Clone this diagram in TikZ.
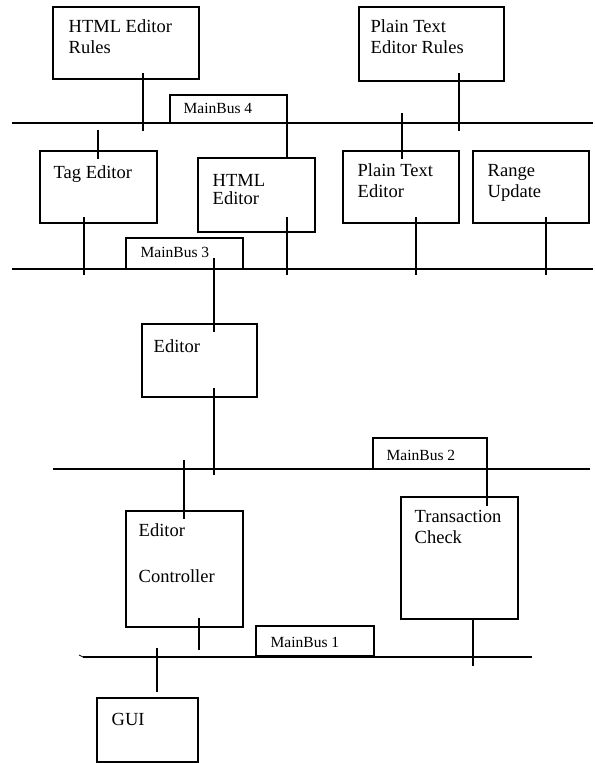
\documentclass[tikz,border=0pt]{standalone}
\usepackage{fontspec}
\setmainfont{Liberation Serif}
\begin{document}
\begin{tikzpicture}[x=1pt,y=-1pt,
  every path/.style={line width=1.4pt},
  box/.style={draw, rectangle, anchor=north west, inner sep=0pt, outer sep=0pt},
  lbl/.style={anchor=base west, inner sep=0pt, font=\fontsize{18.5}{20}\selectfont},
  buslbl/.style={anchor=base west, inner sep=0pt, font=\fontsize{15.5}{16}\selectfont}]
\useasboundingbox (0,0) rectangle (595,763);
% boxes
\node[box, minimum width=146pt, minimum height=72pt] (htmlrules) at (53,7) {};
\node[box, minimum width=145pt, minimum height=74pt] (ptrules) at (359,7) {};
\node[box, minimum width=117pt, minimum height=72pt] (tag) at (40,151) {};
\node[box, minimum width=117pt, minimum height=74pt] (htmled) at (198,158) {};
\node[box, minimum width=116pt, minimum height=72pt] (pted) at (343,151) {};
\node[box, minimum width=116pt, minimum height=72pt] (range) at (473,151) {};
\node[box, minimum width=115pt, minimum height=73pt] (editor) at (142,324) {};
\node[box, minimum width=117pt, minimum height=122pt] (trans) at (401,497) {};
\node[box, minimum width=117pt, minimum height=116pt] (ctrl) at (126,511) {};
\node[box, minimum width=101pt, minimum height=64pt] (gui) at (97,698) {};
% labels
\node[lbl] (t1) at (68,32) {HTML Editor};
\node[lbl] (t2) at (68,53) {Rules};
\node[lbl] (t3) at (370,32) {Plain Text};
\node[lbl] (t4) at (370,53) {Editor Rules};
\node[lbl] (t5) at (53,178) {Tag Editor};
\node[lbl] (t6) at (212,186) {HTML};
\node[lbl] (t7) at (212,204) {Editor};
\node[lbl] (t8) at (357,176) {Plain Text};
\node[lbl] (t9) at (357,197) {Editor};
\node[lbl] (t10) at (487,176) {Range};
\node[lbl] (t11) at (487,197) {Update};
\node[lbl] (t12) at (153,352) {Editor};
\node[lbl] (t13) at (414,522) {Transaction};
\node[lbl] (t14) at (414,543) {Check};
\node[lbl] (t15) at (138,536) {Editor};
\node[lbl] (t16) at (138,582) {Controller};
\node[lbl] (t17) at (111,725) {GUI};
% buses
\coordinate (b4l) at (12,123); \coordinate (b4r) at (593,123);
\coordinate (b3l) at (12,269); \coordinate (b3r) at (593,269);
\coordinate (b2l) at (53,469); \coordinate (b2r) at (590,469);
\coordinate (b1l) at (83,657); \coordinate (b1r) at (532,657);
\draw (b4l) -- (b4r);
\draw (b3l) -- (b3r);
\draw (b2l) -- (b2r);
\draw (b1l) -- (b1r);
\draw[line width=0.8pt] (b1l) -- ++(-4,-2);
% bus tabs
\draw (170,123) -- (170,95) -- (287,95) -- (287,158);
\node[buslbl] (m4) at (183,113) {MainBus 4};
\draw (126,269) -- (126,238) -- (243,238) -- (243,269);
\node[buslbl] (m3) at (140,257) {MainBus 3};
\draw (373,469) -- (373,438) -- (487,438) -- (487,506);
\node[buslbl] (m2) at (386,460) {MainBus 2};
\draw[line width=1.4pt] (256,626) rectangle (374,656);
\draw[line width=2.2pt] (256,656) -- (374,656);
\node[buslbl] (m1) at (270,647) {MainBus 1};
% connectors
\draw (htmlrules.south -| 143,0) ++(0,-6) -- (143,131);
\draw (ptrules.south -| 459,0) ++(0,-8) -- (459,131);
\draw (98,130) -- (tag.north -| 98,0) -- ++(0,8);
\draw (402,113) -- (pted.north -| 402,0) -- ++(0,8);
\draw (tag.south -| 84,0) ++(0,-6) -- (84,275);
\draw (htmled.south -| 287,0) ++(0,-15) -- (287,275);
\draw (pted.south -| 416,0) ++(0,-6) -- (416,275);
\draw (range.south -| 546,0) ++(0,-6) -- (546,275);
\draw (214,258) -- (editor.north -| 214,0) -- ++(0,8);
\draw (editor.south -| 214,0) ++(0,-9) -- (214,475);
\draw (184,460) -- (ctrl.north -| 184,0) -- ++(0,8);
\draw (trans.south -| 473,0) -- (473,666);
\draw (ctrl.south -| 199,0) ++(0,-9) -- (199,650);
\draw (157,648) -- (157,692);
\end{tikzpicture}
\end{document}
